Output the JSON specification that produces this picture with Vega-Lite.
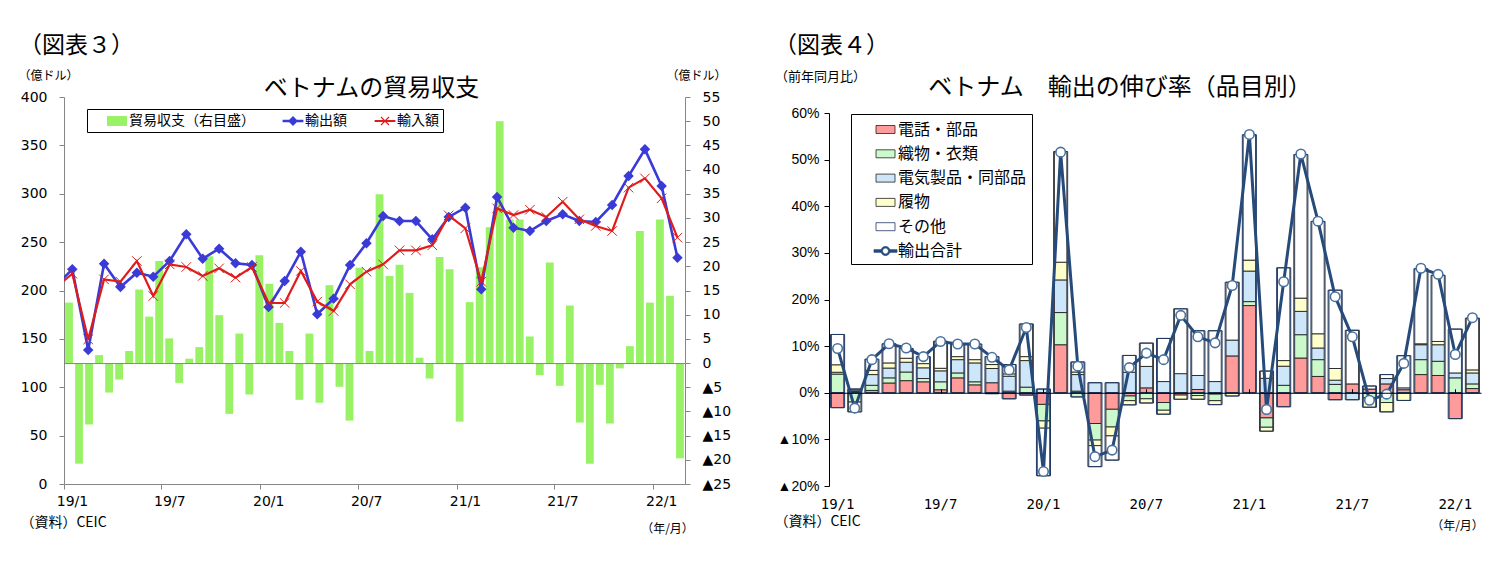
{
  "$schema": "https://vega.github.io/schema/vega-lite/v6.json",
  "background": "white",
  "padding": {"left": 17, "top": 35, "right": 5, "bottom": 5},
  "spacing": 42,
  "resolve": {"scale": {"color": "independent", "shape": "independent", "fill": "independent"}, "legend": {"color": "independent", "shape": "independent", "fill": "independent"}},
  "config": {
    "view": {"stroke": null},
    "font": "Noto Sans CJK JP",
    "axis": {"grid": false, "labelColor": "#000", "titleColor": "#000", "titleFont": "Noto Sans CJK JP", "titleFontWeight": "normal"},
    "title": {"color": "#000", "font": "Noto Sans CJK JP", "fontWeight": "normal"},
    "legend": {"labelColor": "#000"}
  },
  "datasets": {
    "bal": [
      {"i": 1, "v": 12.5}, {"i": 2, "v": -20.8}, {"i": 3, "v": -12.7}, {"i": 4, "v": 1.65}, {"i": 5, "v": -6.1},
      {"i": 6, "v": -3.4}, {"i": 7, "v": 2.5}, {"i": 8, "v": 15.2}, {"i": 9, "v": 9.6}, {"i": 10, "v": 21.1},
      {"i": 11, "v": 5.1}, {"i": 12, "v": -4.1}, {"i": 13, "v": 0.9}, {"i": 14, "v": 3.3}, {"i": 15, "v": 22.1},
      {"i": 16, "v": 9.9}, {"i": 17, "v": -10.5}, {"i": 18, "v": 6.1}, {"i": 19, "v": -6.5}, {"i": 20, "v": 22.3},
      {"i": 21, "v": 16.4}, {"i": 22, "v": 8.3}, {"i": 23, "v": 2.5}, {"i": 24, "v": -7.6}, {"i": 25, "v": 6.1},
      {"i": 26, "v": -8.2}, {"i": 27, "v": 16.1}, {"i": 28, "v": -4.9}, {"i": 29, "v": -11.9}, {"i": 30, "v": 19.7},
      {"i": 31, "v": 2.5}, {"i": 32, "v": 34.9}, {"i": 33, "v": 18.0}, {"i": 34, "v": 20.3}, {"i": 35, "v": 14.5},
      {"i": 36, "v": 1.1}, {"i": 37, "v": -3.2}, {"i": 38, "v": 21.9}, {"i": 39, "v": 19.4}, {"i": 40, "v": -12.1},
      {"i": 41, "v": 12.6}, {"i": 42, "v": 19.8}, {"i": 43, "v": 28.1}, {"i": 44, "v": 50.0}, {"i": 45, "v": 29.7},
      {"i": 46, "v": 29.7}, {"i": 47, "v": 5.5}, {"i": 48, "v": -2.5}, {"i": 49, "v": 20.8}, {"i": 50, "v": -4.7},
      {"i": 51, "v": 11.9}, {"i": 52, "v": -12.3}, {"i": 53, "v": -20.8}, {"i": 54, "v": -4.5}, {"i": 55, "v": -12.5},
      {"i": 56, "v": -1.1}, {"i": 57, "v": 3.5}, {"i": 58, "v": 27.3}, {"i": 59, "v": 12.5}, {"i": 60, "v": 29.7},
      {"i": 61, "v": 13.9}, {"i": 62, "v": -19.7}
    ],
    "trade": [
      {"m": "2018-12", "exp": 205, "imp": 203},
      {"m": "2019-01", "exp": 221.9, "imp": 217.4},
      {"m": "2019-02", "exp": 138.5, "imp": 149.5},
      {"m": "2019-03", "exp": 227.7, "imp": 211.5},
      {"m": "2019-04", "exp": 203.6, "imp": 209.1},
      {"m": "2019-05", "exp": 218.4, "imp": 230.5},
      {"m": "2019-06", "exp": 214.3, "imp": 194.3},
      {"m": "2019-07", "exp": 230.5, "imp": 227.0},
      {"m": "2019-08", "exp": 258.1, "imp": 224.3},
      {"m": "2019-09", "exp": 232.9, "imp": 215.0},
      {"m": "2019-10", "exp": 243.2, "imp": 222.9},
      {"m": "2019-11", "exp": 228.1, "imp": 213.3},
      {"m": "2019-12", "exp": 226.4, "imp": 224.3},
      {"m": "2020-01", "exp": 182.9, "imp": 187.1},
      {"m": "2020-02", "exp": 209.8, "imp": 187.1},
      {"m": "2020-03", "exp": 240.1, "imp": 220.2},
      {"m": "2020-04", "exp": 175.4, "imp": 188.5},
      {"m": "2020-05", "exp": 191.6, "imp": 178.8},
      {"m": "2020-06", "exp": 226.4, "imp": 206.4},
      {"m": "2020-07", "exp": 248.8, "imp": 219.5},
      {"m": "2020-08", "exp": 277.0, "imp": 227.0},
      {"m": "2020-09", "exp": 271.8, "imp": 241.5},
      {"m": "2020-10", "exp": 271.8, "imp": 241.5},
      {"m": "2020-11", "exp": 252.9, "imp": 246.7},
      {"m": "2020-12", "exp": 276.0, "imp": 277.7},
      {"m": "2021-01", "exp": 285.6, "imp": 264.3},
      {"m": "2021-02", "exp": 201.2, "imp": 209.1},
      {"m": "2021-03", "exp": 296.6, "imp": 284.9},
      {"m": "2021-04", "exp": 264.9, "imp": 278.0},
      {"m": "2021-05", "exp": 261.5, "imp": 283.5},
      {"m": "2021-06", "exp": 271.8, "imp": 276.0},
      {"m": "2021-07", "exp": 278.7, "imp": 291.8},
      {"m": "2021-08", "exp": 271.8, "imp": 273.6},
      {"m": "2021-09", "exp": 270.8, "imp": 266.7},
      {"m": "2021-10", "exp": 288.4, "imp": 261.5},
      {"m": "2021-11", "exp": 318.3, "imp": 306.3},
      {"m": "2021-12", "exp": 345.9, "imp": 315.9},
      {"m": "2022-01", "exp": 308.0, "imp": 295.3},
      {"m": "2022-02", "exp": 233.9, "imp": 254.6}
    ],
    "items": [
      {"m": "19/1", "電話・部品": -3.2, "織物・衣類": 4.0, "電気製品・同部品": 0.4, "履物": 1.6, "その他": 6.5, "t": 9.5},
      {"m": "19/2", "電話・部品": 0.3, "織物・衣類": -2.0, "電気製品・同部品": 0.3, "履物": 0.2, "その他": -2.1, "t": -3.3},
      {"m": "19/3", "電話・部品": 0.5, "織物・衣類": 1.1, "電気製品・同部品": 2.3, "履物": 0.9, "その他": 2.4, "t": 7.1},
      {"m": "19/4", "電話・部品": 2.1, "織物・衣類": 1.1, "電気製品・同部品": 2.1, "履物": 1.1, "その他": 4.1, "t": 10.5},
      {"m": "19/5", "電話・部品": 2.6, "織物・衣類": 1.85, "電気製品・同部品": 2.1, "履物": 0.85, "その他": 2.1, "t": 9.6},
      {"m": "19/6", "電話・部品": 2.35, "織物・衣類": 0.7, "電気製品・同部品": 2.3, "履物": 0.9, "その他": 1.5, "t": 7.75},
      {"m": "19/7", "電話・部品": 0.65, "織物・衣類": 1.7, "電気製品・同部品": 2.35, "履物": 0.55, "その他": 5.8, "t": 11.0},
      {"m": "19/8", "電話・部品": 3.2, "織物・衣類": 1.05, "電気製品・同部品": 2.85, "履物": 0.65, "その他": 2.7, "t": 10.45},
      {"m": "19/9", "電話・部品": 1.7, "織物・衣類": 0.65, "電気製品・同部品": 4.05, "履物": 0.7, "その他": 3.35, "t": 10.45},
      {"m": "19/10", "電話・部品": 2.15, "織物・衣類": -0.2, "電気製品・同部品": 3.05, "履物": 0.85, "その他": 1.7, "t": 7.6},
      {"m": "19/11", "電話・部品": -1.3, "織物・衣類": 0.35, "電気製品・同部品": 3.2, "履物": 0.5, "その他": 2.0, "t": 4.9},
      {"m": "19/12", "電話・部品": -0.5, "織物・衣類": 1.2, "電気製品・同部品": 5.7, "履物": 0.85, "その他": 7.0, "t": 14.0},
      {"m": "20/1", "電話・部品": -2.5, "織物・衣類": -3.55, "電気製品・同部品": 0.8, "履物": -1.55, "その他": -10.2, "t": -16.9},
      {"m": "20/2", "電話・部品": 10.3, "織物・衣類": 6.9, "電気製品・同部品": 7.0, "履物": 3.8, "その他": 23.75, "t": 51.6},
      {"m": "20/3", "電話・部品": 0.35, "織物・衣類": -0.9, "電気製品・同部品": 3.55, "履物": 0.55, "その他": 2.15, "t": 5.7},
      {"m": "20/4", "電話・部品": -6.6, "織物・衣類": -3.55, "電気製品・同部品": 2.15, "履物": -1.2, "その他": -4.5, "t": -13.7},
      {"m": "20/5", "電話・部品": -3.55, "織物・衣類": -3.8, "電気製品・同部品": 2.15, "履物": -1.9, "その他": -5.2, "t": -12.3},
      {"m": "20/6", "電話・部品": -0.7, "織物・衣類": -1.0, "電気製品・同部品": 4.4, "履物": -0.9, "その他": 3.6, "t": 5.4},
      {"m": "20/7", "電話・部品": 1.05, "織物・衣類": -1.3, "電気製品・同部品": 4.6, "履物": -0.9, "その他": 5.0, "t": 8.5},
      {"m": "20/8", "電話・部品": -2.1, "織物・衣類": -1.65, "電気製品・同部品": 2.4, "履物": -0.85, "その他": 9.25, "t": 7.1},
      {"m": "20/9", "電話・部品": -0.5, "織物・衣類": 0, "電気製品・同部品": 4.1, "履物": -0.9, "その他": 13.9, "t": 16.6},
      {"m": "20/10", "電話・部品": 0.7, "織物・衣類": -0.6, "電気製品・同部品": 3.0, "履物": -0.8, "その他": 9.6, "t": 12.0},
      {"m": "20/11", "電話・部品": -0.3, "織物・衣類": -1.4, "電気製品・同部品": 2.4, "履物": -0.85, "その他": 10.9, "t": 10.7},
      {"m": "20/12", "電話・部品": 7.9, "織物・衣類": 0, "電気製品・同部品": 3.4, "履物": -0.7, "その他": 12.4, "t": 23.0},
      {"m": "21/1", "電話・部品": 18.7, "織物・衣類": 0.85, "電気製品・同部品": 6.55, "履物": 2.35, "その他": 26.9, "t": 55.4},
      {"m": "21/2", "電話・部品": -5.4, "織物・衣類": -2.0, "電気製品・同部品": 3.1, "履物": -0.85, "その他": 1.55, "t": -3.6},
      {"m": "21/3", "電話・部品": -3.0, "織物・衣類": 1.6, "電気製品・同部品": 4.1, "履物": 1.2, "その他": 19.9, "t": 23.8},
      {"m": "21/4", "電話・部品": 7.45, "織物・衣類": 5.0, "電気製品・同部品": 5.0, "履物": 2.85, "その他": 30.8, "t": 51.2},
      {"m": "21/5", "電話・部品": 3.5, "織物・衣類": 3.6, "電気製品・同部品": 2.5, "履物": 3.05, "その他": 24.1, "t": 36.8},
      {"m": "21/6", "電話・部品": -1.5, "織物・衣類": 1.8, "電気製品・同部品": 0.9, "履物": 2.5, "その他": 16.8, "t": 20.6},
      {"m": "21/7", "電話・部品": 1.9, "織物・衣類": 0, "電気製品・同部品": -1.5, "履物": 0, "その他": 11.5, "t": 12.0},
      {"m": "21/8", "電話・部品": 0.8, "織物・衣類": -1.1, "電気製品・同部品": 0, "履物": -2.0, "その他": 0.65, "t": -1.6},
      {"m": "21/9", "電話・部品": 1.9, "織物・衣類": -2.1, "電気製品・同部品": 1.15, "履物": -2.0, "その他": 0.85, "t": -0.3},
      {"m": "21/10", "電話・部品": 0.65, "織物・衣類": 0, "電気製品・同部品": 0.4, "履物": -1.65, "その他": 6.9, "t": 6.3},
      {"m": "21/11", "電話・部品": 3.9, "織物・衣類": 3.2, "電気製品・同部品": 3.2, "履物": 0.2, "その他": 16.1, "t": 26.7},
      {"m": "21/12", "電話・部品": 3.7, "織物・衣類": 3.05, "電気製品・同部品": 3.55, "履物": 0.7, "その他": 14.2, "t": 25.4},
      {"m": "22/1", "電話・部品": -5.55, "織物・衣類": 3.2, "電気製品・同部品": 1.05, "履物": 0, "その他": 9.4, "t": 8.2},
      {"m": "22/2", "電話・部品": 0.9, "織物・衣類": 1.0, "電気製品・同部品": 2.35, "履物": 0.65, "その他": 11.1, "t": 16.1}
    ]
  },
  "hconcat": [
    {
      "title": {"text": "（図表３）", "anchor": "start", "fontSize": 23, "offset": 11, "dx": 1},
      "vconcat": [
        {
          "width": 621,
          "height": 387,
          "title": {"text": "ベトナムの貿易収支", "anchor": "middle", "frame": "group", "fontSize": 24, "offset": -32, "dx": -3},
          "resolve": {"scale": {"x": "independent", "y": "independent"}, "axis": {"x": "independent", "y": "independent"}},
          "layer": [
            {
              "data": {"name": "bal"},
              "mark": {"type": "bar", "color": "#99f266", "width": {"band": 0.78}},
              "encoding": {
                "x": {"field": "i", "type": "ordinal", "scale": {"paddingInner": 0, "paddingOuter": 0},
                  "axis": {"orient": "bottom", "offset": -120.94, "labels": false, "ticks": false, "domain": true, "domainColor": "#868686", "domainWidth": 1, "zindex": 1,
                    "title": "（資料）CEIC", "titleX": -1, "titleY": 159, "titleAlign": "center", "titleBaseline": "middle", "titleFontSize": 14, "titleAngle": 0}},
                "y": {"field": "v", "type": "quantitative", "scale": {"domain": [-25, 55], "nice": false, "zero": false},
                  "axis": {"orient": "right", "values": [-25, -20, -15, -10, -5, 0, 5, 10, 15, 20, 25, 30, 35, 40, 45, 50, 55],
                    "labelExpr": "datum.value < 0 ? '▲' + abs(datum.value) : datum.label",
                    "labelOverlap": false, "domainColor": "#868686", "tickColor": "#868686", "tickSize": 5, "labelPadding": 12,
                    "labelFont": "DejaVu Sans", "labelFontSize": 14,
                    "title": "（億ドル）", "titleAngle": 0, "titleX": 11, "titleY": -22, "titleAlign": "center", "titleBaseline": "middle", "titleFontSize": 12}}
              }
            },
            {
              "data": {"name": "trade"},
              "transform": [{"fold": ["exp", "imp"], "as": ["k", "val"]}],
              "encoding": {
                "x": {"field": "m", "timeUnit": "utcyearmonth", "type": "temporal", "bandPosition": 0.5,
                  "scale": {"domain": [{"year": 2019, "month": 1, "date": 1, "utc": true}, {"year": 2022, "month": 3, "date": 1, "utc": true}]},
                  "axis": {"orient": "bottom",
                    "values": [{"year": 2019, "month": 1, "date": 1, "utc": true}, {"year": 2019, "month": 7, "date": 1, "utc": true}, {"year": 2020, "month": 1, "date": 1, "utc": true}, {"year": 2020, "month": 7, "date": 1, "utc": true}, {"year": 2021, "month": 1, "date": 1, "utc": true}, {"year": 2021, "month": 7, "date": 1, "utc": true}, {"year": 2022, "month": 1, "date": 1, "utc": true}],
                    "labelExpr": "utcFormat(datum.value, '%y/%-m')", "labelOffset": 8, "labelFlush": false, "labelOverlap": false,
                    "tickSize": 5, "domainColor": "#868686", "tickColor": "#868686", "labelPadding": 5,
                    "labelFont": "DejaVu Sans", "labelFontSize": 14,
                    "title": "（年/月）", "titleX": 603, "titleY": 44, "titleAlign": "center", "titleBaseline": "middle", "titleFontSize": 12}},
                "y": {"field": "val", "type": "quantitative", "scale": {"domain": [0, 400], "nice": false},
                  "axis": {"orient": "left", "values": [0, 50, 100, 150, 200, 250, 300, 350, 400], "labelOverlap": false,
                    "domainColor": "#868686", "tickColor": "#868686", "tickSize": 5, "labelPadding": 12,
                    "labelFont": "DejaVu Sans", "labelFontSize": 14,
                    "title": "（億ドル）", "titleAngle": 0, "titleX": -16, "titleY": -22, "titleAlign": "center", "titleBaseline": "middle", "titleFontSize": 12}}
              },
              "layer": [
                {
                  "transform": [{"filter": "datum.k == 'exp'"}],
                  "mark": {"type": "line", "color": "#3a3ad6", "strokeWidth": 2.6, "clip": true}
                },
                {
                  "transform": [{"filter": "datum.k == 'exp'"}],
                  "mark": {"type": "point", "shape": "diamond", "filled": true, "color": "#3a3ad6", "size": 110, "opacity": 1, "clip": true}
                },
                {
                  "transform": [{"filter": "datum.k == 'imp'"}],
                  "mark": {"type": "line", "color": "#e01b1b", "strokeWidth": 2.2, "clip": true}
                },
                {
                  "transform": [{"filter": "datum.k == 'imp'"}],
                  "mark": {"type": "point", "shape": "M-1,-1L1,1M-1,1L1,-1", "filled": false, "color": "#e01b1b", "strokeWidth": 1, "size": 90, "opacity": 1, "clip": true}
                }
              ]
            },
            {
              "data": {"values": [{"s": "貿易収支（右目盛）"}, {"s": "輸出額"}, {"s": "輸入額"}]},
              "mark": {"type": "point", "filled": true, "opacity": 0},
              "encoding": {
                "color": {"field": "s", "type": "nominal",
                  "scale": {"domain": ["貿易収支（右目盛）", "輸出額", "輸入額"], "range": ["#99f266", "#3a3ad6", "#e01b1b"]},
                  "legend": {"orient": "none", "legendX": 23, "legendY": 12, "direction": "horizontal", "title": null, "strokeColor": "#000", "fillColor": "#fff", "padding": 4, "symbolSize": 256, "symbolOpacity": 1, "symbolStrokeWidth": 0, "symbolOffset": 18, "labelOffset": 4, "columnPadding": 12, "labelFontSize": 14, "labelFont": "Noto Sans CJK JP", "labelLimit": 400,
                    "labelExpr": "datum.value == '輸入額' ? datum.label + '   ' : datum.label"}},
                "shape": {"field": "s", "type": "nominal",
                  "scale": {"domain": ["貿易収支（右目盛）", "輸出額", "輸入額"], "range": ["M-1.25,-0.62H1.25V0.62H-1.25Z", "M-1.3,-0.17H1.3V0.17H-1.3Z M0,-0.62L0.62,0L0,0.62L-0.62,0Z", "M-1.3,-0.14H1.3V0.14H-1.3Z M-0.55,-0.45L-0.45,-0.55L0.55,0.45L0.45,0.55Z M0.45,-0.55L0.55,-0.45L-0.45,0.55L-0.55,0.45Z"]},
                  "legend": {"orient": "none", "legendX": 23, "legendY": 12, "direction": "horizontal", "title": null, "strokeColor": "#000", "fillColor": "#fff", "padding": 4, "symbolSize": 256, "symbolOpacity": 1, "symbolStrokeWidth": 0, "symbolOffset": 18, "labelOffset": 4, "columnPadding": 12, "labelFontSize": 14, "labelFont": "Noto Sans CJK JP", "labelLimit": 400,
                    "labelExpr": "datum.value == '輸入額' ? datum.label + '   ' : datum.label"}}
              }
            }
          ]
        }
      ]
    },
    {
      "title": {"text": "（図表４）", "anchor": "start", "fontSize": 23, "offset": 12, "dx": 0},
      "vconcat": [
        {
          "width": 652,
          "height": 389,
          "title": {"text": "ベトナム　輸出の伸び率（品目別）", "anchor": "middle", "frame": "group", "fontSize": 24, "offset": -30, "dx": -35},
          "resolve": {"scale": {"x": "independent"}, "axis": {"x": "independent"}},
          "layer": [
            {
              "data": {"name": "items"},
              "transform": [
                {"fold": ["電話・部品", "織物・衣類", "電気製品・同部品", "履物", "その他"], "as": ["s", "v"]},
                {"calculate": "indexof(['電話・部品', '織物・衣類', '電気製品・同部品', '履物', 'その他'], datum.s)", "as": "ord"}
              ],
              "encoding": {
                "x": {"field": "m", "type": "ordinal",
                  "scale": {"domain": ["19/1","19/2","19/3","19/4","19/5","19/6","19/7","19/8","19/9","19/10","19/11","19/12","20/1","20/2","20/3","20/4","20/5","20/6","20/7","20/8","20/9","20/10","20/11","20/12","21/1","21/2","21/3","21/4","21/5","21/6","21/7","21/8","21/9","21/10","21/11","21/12","22/1","22/2"], "paddingInner": 0, "paddingOuter": 0},
                  "axis": {"orient": "bottom", "values": ["19/1", "19/7", "20/1", "20/7", "21/1", "21/7", "22/1"], "domain": false, "ticks": false, "labelAngle": 0, "labelPadding": 11,
                    "labelFont": "DejaVu Sans Mono", "labelFontSize": 14,
                    "title": "（年/月）", "titleX": 628, "titleY": 39, "titleAlign": "center", "titleBaseline": "middle", "titleFontSize": 12}}
              },
              "layer": [
                {
                  "transform": [{"filter": "datum.v != 0"}],
                  "mark": {"type": "bar", "width": {"band": 0.72}, "stroke": "#111", "strokeWidth": 0.8},
                  "encoding": {
                    "y": {"field": "v", "type": "quantitative", "stack": "zero", "scale": {"domain": [-20, 60], "nice": false, "zero": false, "range": [389, 16]},
                      "axis": {"orient": "left", "values": [-20, -10, 0, 10, 20, 30, 40, 50, 60],
                        "labelExpr": "datum.value < 0 ? '▲' + abs(datum.value) + '%' : datum.value + '%'",
                        "labelOverlap": false, "domainColor": "#000", "tickColor": "#000", "tickSize": 5, "labelPadding": 5,
                        "labelFont": "Liberation Sans", "labelFontSize": 14,
                        "title": "（前年同月比）", "titleAngle": 0, "titleX": -9, "titleY": -21, "titleAlign": "center", "titleBaseline": "middle", "titleFontSize": 13}},
                    "fill": {"field": "s", "type": "nominal",
                      "scale": {"domain": ["電話・部品", "織物・衣類", "電気製品・同部品", "履物", "その他"], "range": ["#ff9b9b", "#ccf9cc", "#cde6fa", "#ffffcc", "#ffffff"]},
                      "legend": null},
                    "order": {"field": "ord", "type": "quantitative"}
                  }
                },
                {
                  "transform": [{"filter": "datum.v > 0"}],
                  "mark": {"type": "bar", "width": {"band": 0.82}, "fillOpacity": 0, "stroke": "#1f3864", "strokeWidth": 1},
                  "encoding": {"y": {"aggregate": "sum", "field": "v", "type": "quantitative", "scale": {"domain": [-20, 60], "nice": false, "zero": false, "range": [389, 16]},
                      "axis": {"orient": "left", "values": [-20, -10, 0, 10, 20, 30, 40, 50, 60],
                        "labelExpr": "datum.value < 0 ? '▲' + abs(datum.value) + '%' : datum.value + '%'",
                        "labelOverlap": false, "domainColor": "#000", "tickColor": "#000", "tickSize": 5, "labelPadding": 5,
                        "labelFont": "Liberation Sans", "labelFontSize": 14,
                        "title": "（前年同月比）", "titleAngle": 0, "titleX": -9, "titleY": -21, "titleAlign": "center", "titleBaseline": "middle", "titleFontSize": 13}}}
                },
                {
                  "transform": [{"filter": "datum.v < 0"}],
                  "mark": {"type": "bar", "width": {"band": 0.82}, "fillOpacity": 0, "stroke": "#1f3864", "strokeWidth": 1},
                  "encoding": {"y": {"aggregate": "sum", "field": "v", "type": "quantitative", "scale": {"domain": [-20, 60], "nice": false, "zero": false, "range": [389, 16]},
                      "axis": {"orient": "left", "values": [-20, -10, 0, 10, 20, 30, 40, 50, 60],
                        "labelExpr": "datum.value < 0 ? '▲' + abs(datum.value) + '%' : datum.value + '%'",
                        "labelOverlap": false, "domainColor": "#000", "tickColor": "#000", "tickSize": 5, "labelPadding": 5,
                        "labelFont": "Liberation Sans", "labelFontSize": 14,
                        "title": "（前年同月比）", "titleAngle": 0, "titleX": -9, "titleY": -21, "titleAlign": "center", "titleBaseline": "middle", "titleFontSize": 13}}}
                }
              ]
            },
            {
              "data": {"name": "items"},
              "encoding": {
                "x": {"field": "m", "type": "ordinal",
                  "scale": {"domain": ["19/1","19/2","19/3","19/4","19/5","19/6","19/7","19/8","19/9","19/10","19/11","19/12","20/1","20/2","20/3","20/4","20/5","20/6","20/7","20/8","20/9","20/10","20/11","20/12","21/1","21/2","21/3","21/4","21/5","21/6","21/7","21/8","21/9","21/10","21/11","21/12","22/1","22/2"], "paddingInner": 0, "paddingOuter": 0},
                  "axis": {"orient": "top", "offset": -295.75, "labels": false, "domain": true, "domainColor": "#000", "domainWidth": 1, "ticks": true, "tickColor": "#000", "tickSize": 4, "bandPosition": 0,
                    "values": ["19/7", "20/1", "20/7", "21/1", "21/7", "22/1"], "zindex": 1,
                    "title": "（資料）CEIC", "titleX": -12, "titleY": 129, "titleAlign": "center", "titleBaseline": "middle", "titleFontSize": 14, "titleAngle": 0}},
                "y": {"field": "t", "type": "quantitative", "scale": {"domain": [-20, 60], "nice": false, "zero": false, "range": [389, 16]},
                  "axis": {"orient": "left", "values": [-20, -10, 0, 10, 20, 30, 40, 50, 60],
                    "labelExpr": "datum.value < 0 ? '▲' + abs(datum.value) + '%' : datum.value + '%'",
                    "labelOverlap": false, "domainColor": "#000", "tickColor": "#000", "tickSize": 5, "labelPadding": 5,
                    "labelFont": "Liberation Sans", "labelFontSize": 14,
                    "title": "（前年同月比）", "titleAngle": 0, "titleX": -9, "titleY": -21, "titleAlign": "center", "titleBaseline": "middle", "titleFontSize": 13}}
              },
              "layer": [
                {
                  "mark": {"type": "line", "color": "#264b7a", "strokeWidth": 3}
                },
                {
                  "mark": {"type": "point", "shape": "circle", "filled": true, "fill": "#ffffff", "stroke": "#4a72a0", "strokeWidth": 1.6, "size": 90, "opacity": 1}
                }
              ]
            },
            {
              "data": {"values": [{"s": "電話・部品"}, {"s": "織物・衣類"}, {"s": "電気製品・同部品"}, {"s": "履物"}, {"s": "その他"}, {"s": "輸出合計"}]},
              "mark": {"type": "point", "filled": true, "opacity": 0},
              "encoding": {
                "color": {"field": "s", "type": "nominal",
                  "scale": {"domain": ["電話・部品", "織物・衣類", "電気製品・同部品", "履物", "その他", "輸出合計"], "range": ["#ff9b9b", "#ccf9cc", "#cde6fa", "#ffffcc", "#ffffff", "#264b7a"]},
                  "legend": {"orient": "none", "legendX": 22, "legendY": 17, "direction": "vertical", "title": null, "strokeColor": "#000", "fillColor": "#fff", "padding": 5, "rowPadding": 5.3, "symbolSize": 400, "symbolOpacity": 1, "symbolStrokeColor": "#333", "symbolStrokeWidth": 0.8, "symbolOffset": 19, "labelOffset": 2, "labelFontSize": 16, "labelFont": "Noto Sans CJK JP", "labelLimit": 400,
                    "labelExpr": "datum.label + '　'",
                    "encode": {"symbols": {"update": {"stroke": [{"test": "datum.value === '輸出合計'", "value": "#264b7a"}, {"test": "datum.value === 'その他'", "value": "#1f3864"}, {"value": "#222"}], "strokeWidth": {"value": 0.8}, "opacity": {"value": 1}}}}}},
                "shape": {"field": "s", "type": "nominal",
                  "scale": {"domain": ["電話・部品", "織物・衣類", "電気製品・同部品", "履物", "その他", "輸出合計"], "range": ["M-0.95,-0.4H0.95V0.4H-0.95Z", "M-0.95,-0.4H0.95V0.4H-0.95Z", "M-0.95,-0.4H0.95V0.4H-0.95Z", "M-0.95,-0.4H0.95V0.4H-0.95Z", "M-0.95,-0.4H0.95V0.4H-0.95Z", "M-1.15,-0.13H-0.42V0.13H-1.15Z M0.42,-0.13H1.15V0.13H0.42Z M0.45,0A0.45,0.45,0,1,1,-0.45,0A0.45,0.45,0,1,1,0.45,0Z M0.3,0A0.3,0.3,0,1,0,-0.3,0A0.3,0.3,0,1,0,0.3,0Z"]},
                  "legend": {"orient": "none", "legendX": 22, "legendY": 17, "direction": "vertical", "title": null, "strokeColor": "#000", "fillColor": "#fff", "padding": 5, "rowPadding": 5.3, "symbolSize": 400, "symbolOpacity": 1, "symbolStrokeColor": "#333", "symbolStrokeWidth": 0.8, "symbolOffset": 19, "labelOffset": 2, "labelFontSize": 16, "labelFont": "Noto Sans CJK JP", "labelLimit": 400,
                    "labelExpr": "datum.label + '　'",
                    "encode": {"symbols": {"update": {"stroke": [{"test": "datum.value === '輸出合計'", "value": "#264b7a"}, {"test": "datum.value === 'その他'", "value": "#1f3864"}, {"value": "#222"}], "strokeWidth": {"value": 0.8}, "opacity": {"value": 1}}}}}}
              }
            }
          ]
        }
      ]
    }
  ]
}
